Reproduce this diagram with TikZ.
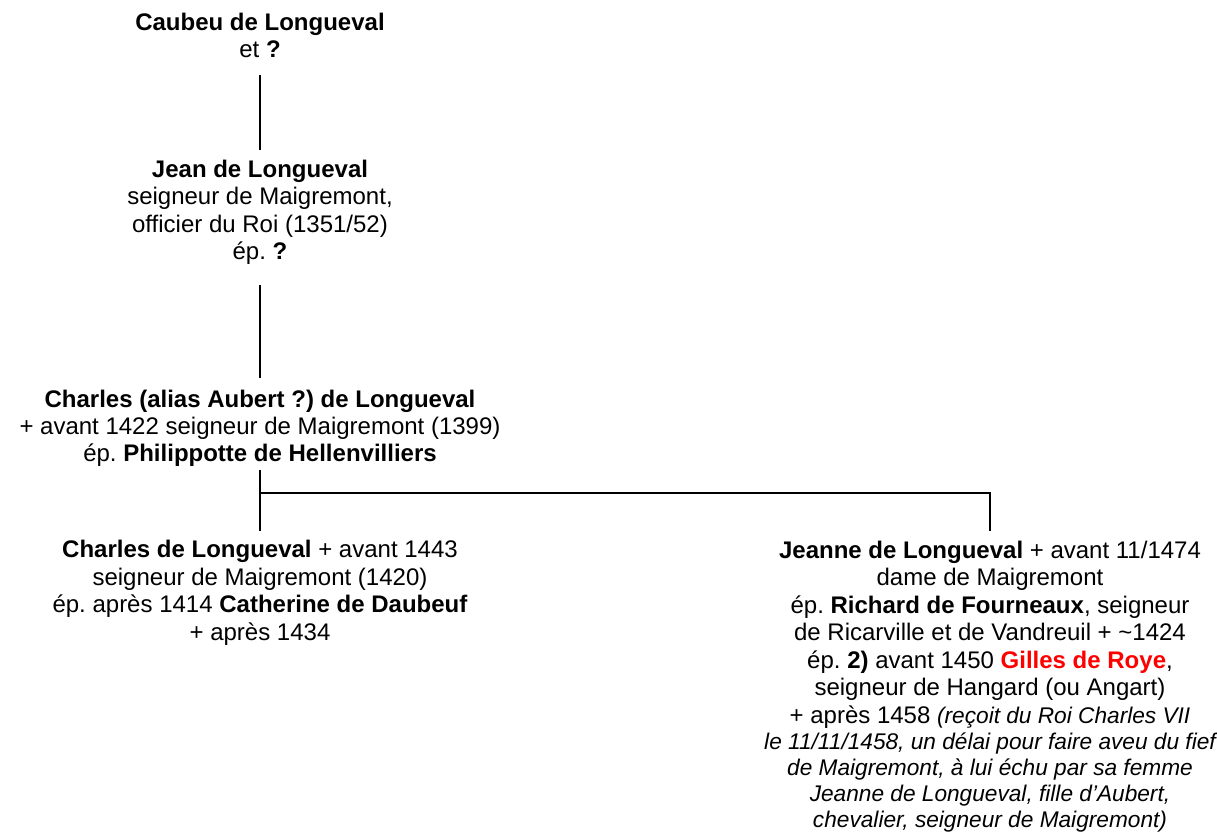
\documentclass[tikz,border=0pt]{standalone}
\usepackage{fontspec}
\setmainfont{Liberation Sans}
\frenchspacing

\tikzset{
  person/.style={align=center, inner sep=0pt, anchor=base,
    font=\fontsize{18}{20.6}\selectfont},
  link/.style={line width=1.5pt},
}
\newcommand{\aside}[1]{{\itshape\fontsize{17}{19.5}\selectfont #1}}

\begin{document}
\begin{tikzpicture}[x=0.75pt, y=-0.75pt]
   \useasboundingbox (0,0) rectangle (1217,837);

   % generations (placed at the baseline of their last line)
   \node[person] (caubeu) at (260,57.5) {\textbf{Caubeu de Longueval}\\ et \textbf{?}};
   \node[person] (jean) at (260,259.5) {\textbf{Jean de Longueval}\\
      seigneur de Maigremont,\\ officier du Roi (1351/52)\\ ép. \textbf{?}};
   \node[person] (aubert) at (260,462) {\textbf{Charles (alias Aubert ?) de Longueval}\\
      + avant 1422 seigneur de Maigremont (1399)\\
      ép. \textbf{Philippotte de Hellenvilliers}};
   \node[person] (charles) at (260,640) {\textbf{Charles de Longueval} + avant 1443\\
      seigneur de Maigremont (1420)\\
      ép. après 1414 \textbf{Catherine de Daubeuf}\\ + après 1434};
   \node[person] (jeanne) at (990,827) {\textbf{Jeanne de Longueval} + avant 11/1474\\
      dame de Maigremont\\
      ép. \textbf{Richard de Fourneaux}, seigneur\\
      de Ricarville et de Vandreuil + \textasciitilde1424\\
      ép. \textbf{2)} avant 1450 \textcolor{red}{\textbf{Gilles de Roye}},\\
      seigneur de Hangard (ou Angart)\\
      + après 1458 \aside{(reçoit du Roi Charles VII}\\[-1.1pt]
      \aside{le 11/11/1458, un délai pour faire aveu du fief}\\[-1.1pt]
      \aside{de Maigremont, à lui échu par sa femme}\\[-1.1pt]
      \aside{Jeanne de Longueval, fille d’Aubert,}\\[-1.1pt]
      \aside{chevalier, seigneur de Maigremont)}};

   % lines
   \draw[link, shorten <=13pt, shorten >=6.75pt] (caubeu.south) -- (jean.north);
   \draw[link, shorten <=15.4pt, shorten >=8.6pt] (jean.south) -- (aubert.north);

   \coordinate (fork) at (260,493);
   \draw[link, shorten <=2.25pt] (aubert.south) -- (fork);
   \draw[link, shorten >=7pt] (fork) -- (charles.north);
   \draw[link, shorten >=7pt] (fork) -| (jeanne.north);
\end{tikzpicture}
\end{document}
